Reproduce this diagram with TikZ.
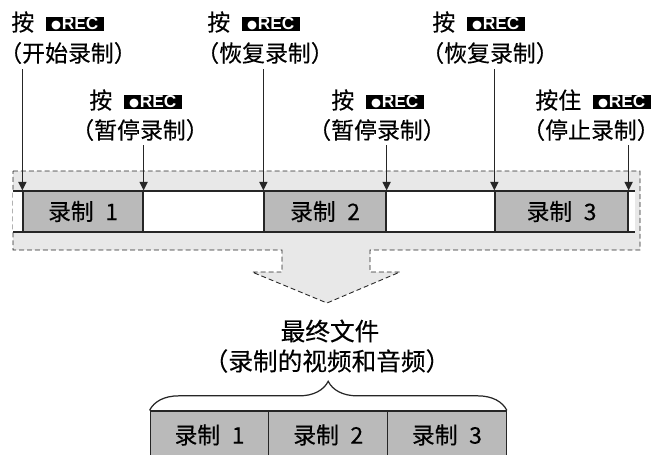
\documentclass[tikz,border=0pt]{standalone}
\usepackage{fontspec}
\setmainfont{Noto Sans CJK SC}[RawFeature=+halt,FakeBold=0.3]
\newfontfamily\recfont{Liberation Sans}
\newfontfamily\dotfont{DejaVu Sans}
\usetikzlibrary{arrows.meta,decorations.pathreplacing}
\colorlet{bandgray}{black!9}
\colorlet{takegray}{black!27}
\colorlet{edgeink}{black!85}
\def\pxu{0.5676pt}
\newcommand{\recbtn}{{\fboxsep=0pt\colorbox{black}{\rule{0pt}{8pt}\makebox[33pt]{\color{white}\raisebox{1.2pt}{\dotfont\fontsize{6.5}{7}\selectfont ●}\kern0.4pt\raisebox{0.6pt}{\recfont\bfseries\fontsize{9.8}{10}\selectfont REC}}}}}

\begin{document}
\begin{tikzpicture}[x=0.5676pt,y=-0.5676pt,font=\fontsize{13}{15}\selectfont,
  lbl/.style={inner sep=0pt},
  biglbl/.style={lbl,font=\fontsize{14}{16}\selectfont},
  marker/.style={draw=edgeink,line width=0.7pt,-{Triangle[width=4.6pt,length=4.8pt]}},
  takebox/.style={draw=edgeink,fill=takegray,line width=0.7pt,inner sep=0pt},
  stripbox/.style={takebox,minimum height=41*\pxu},
  outbox/.style={takebox,minimum height=48*\pxu,minimum width=118.7*\pxu}]
\useasboundingbox (0,0) rectangle (655,454);
\clip (0,0) rectangle (655,454);

% band with the big arrow
\draw[fill=bandgray,draw=edgeink,line width=0.5pt,dash pattern=on 2.8pt off 1.7pt]
  (13,171) -- (640,171) -- (640,250) -- (370,250) -- (370,272) -- (400,272)
  -- (327,303) -- (252,272) -- (282,272) -- (282,250) -- (13,250) -- cycle;
\fill[white] (13,191) rectangle (635,232);
\draw[edgeink,line width=0.7pt] (13,191) -- (635,191) (13,232) -- (635,232);

\node[stripbox,minimum width=120*\pxu] (take1) at (83,211.5) {录制\enspace 1};
\node[stripbox,minimum width=122*\pxu] (take2) at (325,211.5) {录制\enspace 2};
\node[stripbox,minimum width=133*\pxu] (take3) at (561.5,211.5) {录制\enspace 3};

% button labels
\node[lbl,anchor=west] (pressA) at (11,22) {按\enspace\recbtn};
\node[lbl] (descA) at (68,53) {（开始录制）};
\node[lbl,anchor=west] (pressB) at (89,100) {按\enspace\recbtn};
\node[lbl] (descB) at (140,130) {（暂停录制）};
\node[lbl,anchor=west] (pressC) at (207,22) {按\enspace\recbtn};
\node[lbl] (descC) at (265,53) {（恢复录制）};
\node[lbl,anchor=west] (pressD) at (331,100) {按\enspace\recbtn};
\node[lbl] (descD) at (377,130) {（暂停录制）};
\node[lbl,anchor=west] (pressE) at (432,22) {按\enspace\recbtn};
\node[lbl] (descE) at (490,53) {（恢复录制）};
\node[lbl,anchor=west] (pressF) at (535,100) {按住\enspace\recbtn};
\node[lbl] (descF) at (591,130) {（停止录制）};

\draw[marker] (take1.north west |- descA.south) ++(0,5) -- (take1.north west);
\draw[marker] (take1.north east |- descB.south) ++(0,4) -- (take1.north east);
\draw[marker] (take2.north west |- descC.south) ++(0,5) -- (take2.north west);
\draw[marker] (take2.north east |- descD.south) ++(0,4) -- (take2.north east);
\draw[marker] (take3.north west |- descE.south) ++(0,5) -- (take3.north west);
\draw[marker] (take3.north east |- descF.south) ++(0,4) -- (take3.north east);

% final file
\node[biglbl] (final) at (330,331) {最终文件};
\node[biglbl] (finaldesc) at (327,361) {（录制的视频和音频）};
\node[outbox] (out1) at (209.5,435) {录制\enspace 1};
\node[outbox] (out2) at (328.2,435) {录制\enspace 2};
\node[outbox] (out3) at (446.9,435) {录制\enspace 3};
\draw[edgeink,line width=0.7pt,decorate,decoration={brace,amplitude=16.5pt}]
  (out1.north west) -- (out3.north east);

\end{tikzpicture}
\end{document}
